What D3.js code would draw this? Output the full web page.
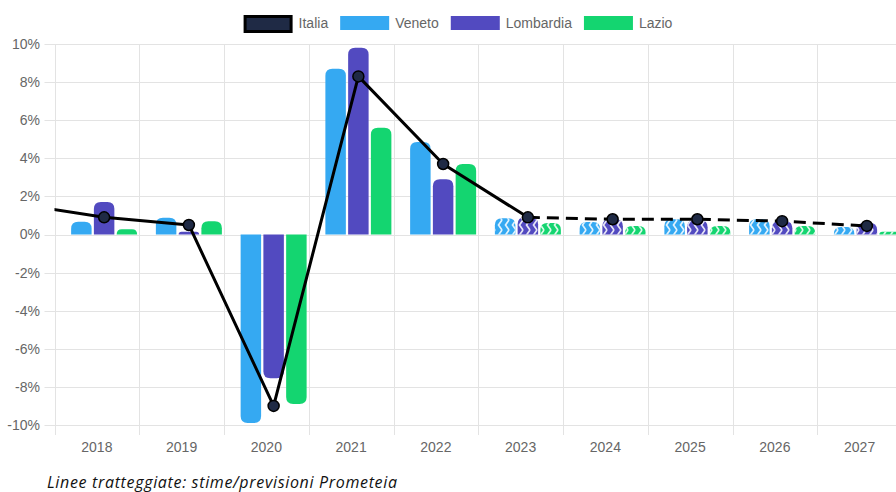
<!DOCTYPE html>
<html><head><meta charset="utf-8">
<script src="https://cdn.jsdelivr.net/npm/d3@7"></script>
<style>
html,body{margin:0;padding:0;background:#fff;}
svg{display:block;}
</style></head>
<body>
<svg id="chart" width="896" height="492"></svg>
<script>
// ---- data ----
const years = ['2017','2018','2019','2020','2021','2022','2023','2024','2025','2026','2027'];
const italia    = [1.6, 0.9, 0.5, -9.0, 8.3, 3.7, 0.9, 0.8, 0.8, 0.7, 0.45];
const veneto    = [null, 0.67, 0.88, -9.9, 8.7, 4.85, 0.85, 0.65, 0.8, 0.8, 0.4];
const lombardia = [null, 1.7, 0.15, -7.55, 9.8, 2.9, 0.9, 0.8, 0.75, 0.7, 0.6];
const lazio     = [null, 0.27, 0.7, -8.9, 5.6, 3.7, 0.6, 0.45, 0.45, 0.45, 0.15];
const seriesNames = ['Veneto','Lombardia','Lazio'];
const legendLabels = ['Italia','Veneto','Lombardia','Lazio'];
const yTicks = [-10,-8,-6,-4,-2,0,2,4,6,8,10];
const xLabels = ['2018','2019','2020','2021','2022','2023','2024','2025','2026','2027'];
const forecastFrom = '2023';
const caption = 'Linee tratteggiate: stime/previsioni Prometeia';

// ---- styles ----
const colors = {Italia:'#1f2a45', Veneto:'#35a9f2', Lombardia:'#524ac0', Lazio:'#14d570'};
const font = '"Liberation Sans", Arial, Helvetica, sans-serif';
const gridColor = '#e3e3e3';
const textColor = '#666';

const svg = d3.select('#chart');
const pLeft = 54.5, pTop = 44, pBottom = 425, step = 84.75;
const plotRight = pLeft + 10*step;

const x = d3.scaleBand().domain(years).range([pLeft - step, plotRight]);
const groupShift = 7.25;
const xc = d => x(d) + x.bandwidth()/2;
const xg = d => xc(d) + groupShift;
const inner = d3.scaleBand().domain(seriesNames).range([-33, 33]).paddingInner(0.1);
const y = d3.scaleLinear().domain([-10, 10]).range([pBottom, pTop]);

const defs = svg.append('defs');
defs.append('clipPath').attr('id','plotclip').append('rect')
  .attr('x', pLeft).attr('y', 0).attr('width', plotRight - pLeft + 20).attr('height', 492);
const pat = defs.append('pattern').attr('id','zig').attr('patternUnits','userSpaceOnUse')
  .attr('width', 7).attr('height', 10);
pat.append('path').attr('d','M5,0 L1.5,5 L5,10').attr('fill','none')
  .attr('stroke','rgba(255,255,255,0.85)').attr('stroke-width',1.7);

// grid: horizontal
svg.append('g').selectAll('line').data(yTicks).join('line')
  .attr('x1', pLeft - 10).attr('x2', plotRight)
  .attr('y1', d => Math.round(y(d)) + 0.5).attr('y2', d => Math.round(y(d)) + 0.5)
  .attr('stroke', gridColor).attr('stroke-width', 1);
// grid: vertical (category boundaries)
const bounds = xLabels.map(d => x(d)).concat([plotRight]);
svg.append('g').selectAll('line').data(bounds).join('line')
  .attr('x1', d => Math.round(d) + 0.5).attr('x2', d => Math.round(d) + 0.5)
  .attr('y1', pTop).attr('y2', pBottom + 10)
  .attr('stroke', gridColor).attr('stroke-width', 1);

// y labels
svg.append('g').selectAll('text').data(yTicks).join('text')
  .attr('x', 40).attr('y', d => y(d)).attr('dy','0.35em')
  .attr('text-anchor','end').attr('font-family', font).attr('font-size', 14)
  .attr('fill', textColor).text(d => d + '%');
// x labels
svg.append('g').selectAll('text').data(xLabels).join('text')
  .attr('x', d => xc(d)).attr('y', 447).attr('dy','0.35em')
  .attr('text-anchor','middle').attr('font-family', font).attr('font-size', 14)
  .attr('fill', textColor).text(d => d);

// bars
function barPath(x0, w, v) {
  const y0 = y(0), y1 = y(v);
  const h = Math.abs(y1 - y0);
  const r = Math.min(7, w/2, h);
  if (v >= 0) {
    return `M${x0},${y0} L${x0},${y1+r} Q${x0},${y1} ${x0+r},${y1} L${x0+w-r},${y1} Q${x0+w},${y1} ${x0+w},${y1+r} L${x0+w},${y0} Z`;
  } else {
    return `M${x0},${y0} L${x0},${y1-r} Q${x0},${y1} ${x0+r},${y1} L${x0+w-r},${y1} Q${x0+w},${y1} ${x0+w},${y1-r} L${x0+w},${y0} Z`;
  }
}
const seriesData = {Veneto: veneto, Lombardia: lombardia, Lazio: lazio};
const barG = svg.append('g').attr('clip-path','url(#plotclip)');
const fIdx = years.indexOf(forecastFrom);
seriesNames.forEach(name => {
  const vals = seriesData[name];
  const recs = years.map((yr, i) => ({yr, i, v: vals[i]})).filter(d => d.v !== null);
  const bx = d => xg(d.yr) + inner(name);
  barG.selectAll(null).data(recs).join('path')
    .attr('d', d => barPath(bx(d), inner.bandwidth(), d.v))
    .attr('fill', colors[name]);
  barG.selectAll(null).data(recs.filter(d => d.i >= fIdx)).join('path')
    .attr('d', d => barPath(bx(d), inner.bandwidth(), d.v))
    .attr('fill', 'url(#zig)');
});

// Italia line
const pts = years.map((yr, i) => ({yr, i, v: italia[i]}));
const line = d3.line().x(d => xg(d.yr)).y(d => y(d.v));
const lineG = svg.append('g').attr('clip-path','url(#plotclip)');
lineG.append('path').datum(pts.filter(d => d.i <= fIdx)).attr('d', line)
  .attr('fill','none').attr('stroke','#000').attr('stroke-width',3).attr('stroke-linejoin','round');
lineG.append('path').datum(pts.filter(d => d.i >= fIdx)).attr('d', line)
  .attr('fill','none').attr('stroke','#000').attr('stroke-width',3).attr('stroke-dasharray','12,7');
lineG.selectAll('circle').data(pts).join('circle')
  .attr('cx', d => xg(d.yr)).attr('cy', d => y(d.v)).attr('r', 5.5)
  .attr('fill', colors.Italia).attr('stroke','#000').attr('stroke-width',1.5);

// legend
const lg = svg.append('g');
const boxW = 49, boxH = 14, gapT = 6, gapI = 12;
let cx = 0;
const items = [];
legendLabels.forEach(name => {
  const t = lg.append('text').attr('font-family', font).attr('font-size', 14)
    .attr('fill', textColor).attr('dy','0.35em').attr('y', 23).text(name);
  const tw = t.node().getComputedTextLength();
  items.push({name, t, x: cx, tw});
  cx += boxW + gapT + tw + gapI;
});
const totalW = cx - gapI;
const lx0 = 458 - totalW/2;
items.forEach(it => {
  const bx = lx0 + it.x;
  if (it.name === 'Italia') {
    lg.append('rect').attr('x', bx + 1.5).attr('y', 16.5).attr('width', boxW - 3).attr('height', boxH + 1)
      .attr('fill', colors.Italia).attr('stroke','#000').attr('stroke-width',3);
  } else {
    lg.append('rect').attr('x', bx).attr('y', 16).attr('width', boxW).attr('height', boxH)
      .attr('fill', colors[it.name]);
  }
  it.t.attr('x', bx + boxW + gapT);
});

// caption
svg.append('text').attr('x', 47).attr('y', 488)
  .attr('font-family','"Open Sans", sans-serif').attr('font-style','italic')
  .attr('font-size', 16).attr('textLength', 350).attr('lengthAdjust','spacing')
  .attr('fill','#111').text(caption);
</script>
</body></html>
